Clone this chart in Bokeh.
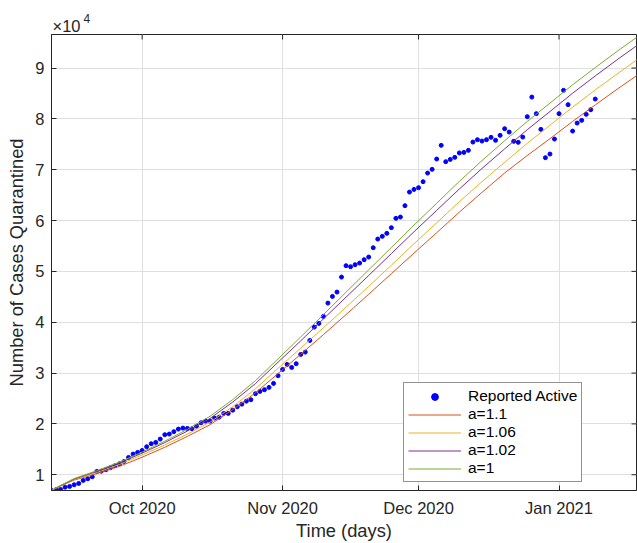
import math
import pandas as pd
from bokeh.plotting import figure
from bokeh.models import (ColumnDataSource, Legend, LegendItem, FixedTicker,
                          DatetimeTickFormatter, Title, Range1d)
from bokeh.embed import file_html
from bokeh.resources import INLINE

# ---------------- data ----------------
start_date = "2020-09-11"
reported_active = [
    6900, 7050, 7100, 7560, 7700, 8030, 8290, 8880, 9210, 9600,
    10650, 10700, 10980, 11380, 11770, 12160, 12620, 13400, 14060, 14390,
    14780, 15510, 16100, 16360, 17010, 17880, 18000, 18470, 18980, 19170,
    19110, 19050, 19560, 20230, 20550, 20550, 21140, 21330, 22060, 22060,
    22710, 23380, 23890, 24480, 24760, 25940, 26390, 26730, 27180, 27970,
    29480, 30720, 31700, 31110, 31840, 33670, 34120, 36420, 39040, 39770,
    41150, 43760, 45080, 45930, 48880, 51120, 50920, 51320, 51640, 52300,
    52820, 54660, 56360, 56890, 57480, 58600, 60430, 60690, 62930, 65600,
    66130, 66470, 67650, 69340, 70070, 72100, 74790, 71580, 72030, 72430,
    73300, 73410, 73810, 75440, 75910, 75640, 75910, 76370, 75780, 76760,
    78070, 77410, 75580, 75380, 76420, 80440, 84290, 81030, 77940, 72370,
    73080, 76030, 81030, 85610, 82800, 77600, 79180, 79710, 80890, 81810,
    83900,
]

model_days = [0, 2, 5, 10, 15, 20, 25, 30, 35, 40, 45, 50, 55, 60, 65,
              70, 75, 80, 85, 90, 95, 100, 105, 110, 115, 120, 125, 130]
model_a_1_1 = [6900, 7780, 8950, 10200, 11650, 13450, 15400, 17550, 19850, 22800,
               26100, 29900, 33700, 37550, 41500, 45500, 49550, 53600, 57600, 61650,
               65550, 69350, 72800, 76100, 79500, 82750, 85950, 89050]
model_a_1_06 = [6900, 7820, 9050, 10450, 12020, 13900, 15850, 18000, 20350, 23400,
                26900, 30950, 34900, 38900, 42950, 47050, 51200, 55450, 59550, 63700,
                67650, 71450, 75200, 78750, 82300, 85700, 88950, 92150]
model_a_1_02 = [6900, 7850, 9150, 10650, 12320, 14250, 16320, 18600, 21080, 24300,
                27920, 32140, 36340, 40650, 44930, 49200, 53500, 57800, 62000, 66200,
                70250, 74100, 77880, 81450, 85050, 88450, 91750, 94950]
model_a_1 = [6900, 7900, 9250, 10800, 12500, 14450, 16600, 18950, 21500, 24800,
             28500, 32800, 37100, 41500, 45900, 50300, 54700, 59100, 63400, 67700,
             71800, 75700, 79500, 83100, 86700, 90100, 93400, 96600]

series_labels = ["a=1.1", "a=1.06", "a=1.02", "a=1"]
series_colors = ["#D95319", "#EDB120", "#7E2F8E", "#77AC30"]

x_tick_dates = ["2020-10-01", "2020-11-01", "2020-12-01", "2021-01-01"]
x_tick_labels = ["Oct 2020", "Nov 2020", "Dec 2020", "Jan 2021"]
y_tick_values = [10000, 20000, 30000, 40000, 50000, 60000, 70000, 80000, 90000]
y_tick_labels = ["1", "2", "3", "4", "5", "6", "7", "8", "9"]
exponent_base = "\u00d710"
exponent_power = "4"

y_min, y_max = 6900, 96600
x_span_days = 129.1

# ---------------- build ----------------
DAY_MS = 86400000.0
t0 = pd.Timestamp(start_date)
t0_ms = t0.value / 1e6
t_end_ms = t0_ms + x_span_days * DAY_MS

rep_dates = pd.date_range(start_date, periods=len(reported_active), freq="D")
model_dates = [t0 + pd.Timedelta(days=d) for d in model_days]

FONT = "Liberation Sans"
TXT = "#262626"

p = figure(width=637, height=543, x_axis_type="datetime",
           output_backend="svg", toolbar_location=None,
           x_range=Range1d(t0_ms, t_end_ms),
           y_range=Range1d(y_min, y_max),
           min_border_left=51, min_border_right=1,
           min_border_top=34, min_border_bottom=53)
p.background_fill_color = "white"
p.border_fill_color = "white"
p.outline_line_color = TXT
p.outline_line_width = 1

rep_src = ColumnDataSource(dict(x=rep_dates, y=reported_active))
sc = p.scatter("x", "y", source=rep_src, size=4, color="#0000FF", marker="circle")

renderers = []
for vals, col in zip([model_a_1_1, model_a_1_06, model_a_1_02, model_a_1], series_colors):
    src = ColumnDataSource(dict(x=model_dates, y=vals))
    r = p.line("x", "y", source=src, line_color=col, line_width=1)
    renderers.append(r)

x_ticks_ms = [pd.Timestamp(d).value / 1e6 for d in x_tick_dates]
xticker = FixedTicker(ticks=x_ticks_ms)
fmt = "%b %Y"
xfmt = DatetimeTickFormatter(microseconds=fmt, milliseconds=fmt, seconds=fmt, minsec=fmt,
                             minutes=fmt, hourmin=fmt, hours=fmt, days=fmt, months=fmt,
                             years=fmt)

xa = p.xaxis[0]
xa.ticker = xticker
xa.formatter = xfmt
xa.major_label_overrides = {t: l for t, l in zip(x_ticks_ms, x_tick_labels)}
ya = p.yaxis[0]
ya.ticker = FixedTicker(ticks=y_tick_values)
ya.major_label_overrides = {v: l for v, l in zip(y_tick_values, y_tick_labels)}

for ax in (xa, ya):
    ax.axis_line_color = TXT
    ax.axis_line_width = 1
    ax.major_tick_line_color = TXT
    ax.major_tick_in = 5
    ax.major_tick_out = 0
    ax.minor_tick_line_color = None
    ax.major_label_text_font = FONT
    ax.major_label_text_font_size = "16.5px"
    ax.major_label_text_color = TXT
    ax.axis_label_text_font = FONT
    ax.axis_label_text_font_size = "18.3px"
    ax.axis_label_text_font_style = "normal"
    ax.axis_label_text_color = TXT

xa.axis_label = "Time (days)"
xa.major_label_standoff = 8
xa.axis_label_standoff = 0
ya.axis_label = "Number of Cases Quarantined"
ya.major_label_standoff = 7
ya.axis_label_standoff = 5

# inward ticks on the top and right edges of the box
top_src = ColumnDataSource(dict(x=x_ticks_ms, y=[y_max] * len(x_ticks_ms)))
p.scatter("x", "y", source=top_src, marker="dash", size=10, angle=math.pi / 2,
          line_color=TXT, line_width=1)
right_src = ColumnDataSource(dict(x=[t_end_ms] * len(y_tick_values), y=y_tick_values))
p.scatter("x", "y", source=right_src, marker="dash", size=10,
          line_color=TXT, line_width=1)

p.xgrid.ticker = xticker
p.ygrid.ticker = FixedTicker(ticks=y_tick_values)
for g in (p.xgrid[0], p.ygrid[0]):
    g.grid_line_color = "#dfdfdf"
    g.grid_line_width = 1

# exponent label (x10^4) above the top-left corner of the axes
# inner panel: "x10"; outer panel (plot title): superscript "4"
p.add_layout(Title(text=exponent_base, text_font=FONT, text_font_size="16.5px",
                   text_font_style="normal", text_color=TXT, align="left",
                   offset=1, standoff=-1), "above")
p.title.text = exponent_power
p.title.text_font = FONT
p.title.text_font_size = "12px"
p.title.text_font_style = "normal"
p.title.text_color = TXT
p.title.align = "left"
p.title.offset = 32
p.title.standoff = -15

items = [LegendItem(label="Reported Active", renderers=[sc])]
for lab, r in zip(series_labels, renderers):
    items.append(LegendItem(label=lab, renderers=[r]))
legend = Legend(items=items, location=(352, 8), orientation="vertical",
                border_line_color=TXT, border_line_width=1,
                background_fill_color="white", background_fill_alpha=1,
                label_text_font=FONT, label_text_font_size="15.5px",
                label_text_color="#000000",
                glyph_width=53, glyph_height=17, label_height=17,
                label_standoff=7, padding=4, spacing=0, margin=0)
p.add_layout(legend, "center")

open("out.html", "w").write(file_html(p, INLINE))
